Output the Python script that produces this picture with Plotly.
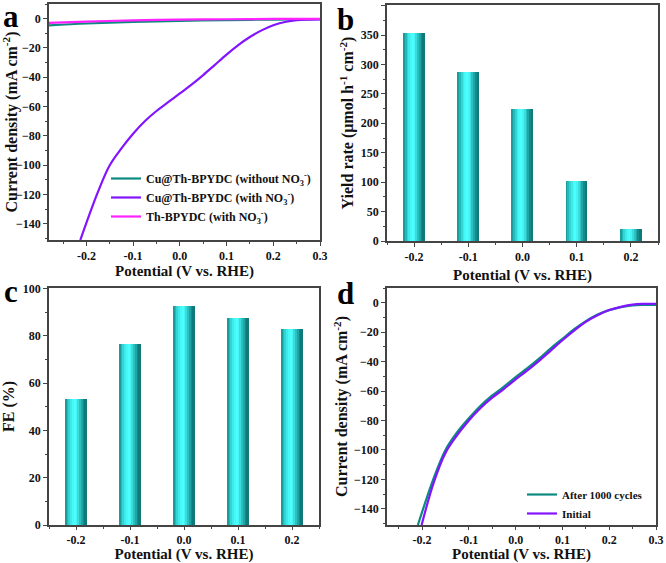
import plotly.graph_objects as go

# ---------------- data ----------------
# panel a
pot_a = [-0.213, -0.175, -0.15, -0.125, -0.10, -0.075, -0.05, -0.025, 0.0,
         0.025, 0.05, 0.075, 0.10, 0.125, 0.15, 0.175, 0.20, 0.225, 0.25, 0.275, 0.30]
cur_with = [-151, -118, -100, -88.5, -78.5, -70, -63, -57, -51,
            -45, -38.5, -31.5, -24.5, -18, -12.5, -8, -4.5, -2.3, -1.0, -0.6, -0.5]
pot_flat = [-0.28, -0.2, -0.1, 0.0, 0.1, 0.2, 0.3]
cur_without = [-4.6, -3.3, -2.2, -1.5, -1.0, -0.6, -0.4]
cur_th = [-2.9, -2.0, -1.2, -0.7, -0.4, -0.2, -0.1]

# panel b / c
bar_pot = [-0.2, -0.1, 0.0, 0.1, 0.2]
bar_labels = ["-0.2", "-0.1", "0.0", "0.1", "0.2"]
yield_rate = [353, 288, 225, 102, 21]
fe = [53.2, 76.5, 92.5, 87.5, 82.8]

# panel d
pot_after = [-0.209, -0.175, -0.15, -0.125, -0.10, -0.075, -0.05, -0.025, 0.0,
             0.025, 0.05, 0.075, 0.10, 0.125, 0.15, 0.175, 0.20, 0.225, 0.25, 0.275, 0.30]
cur_after = [-151, -119, -100, -88, -78.5, -70, -63, -57, -50.5,
             -44.5, -38, -31, -24.5, -18, -12.5, -8, -5, -3, -1.8, -1.5, -1.5]
pot_init = [-0.201, -0.175, -0.15, -0.125, -0.10, -0.075, -0.05, -0.025, 0.0,
            0.025, 0.05, 0.075, 0.10, 0.125, 0.15, 0.175, 0.20, 0.225, 0.25, 0.275, 0.30]
cur_init = [-151, -122, -102, -90, -80, -71.5, -64.5, -58.5, -52,
            -46, -39.5, -32.5, -25.5, -19, -13, -8.5, -5, -2.8, -1.3, -0.8, -0.7]

# ---------------- styling ----------------
FONT = "Liberation Serif"
W, H = 666, 563
TEAL = "#0d8a80"
PURPLE = "#8214ff"
MAGENTA = "#ff22ff"

def dom_x(l, r):
    return [l / W, r / W]

def dom_y(t, b):
    return [1 - b / H, 1 - t / H]

fig = go.Figure()

sub = "NO<sub>3</sub><sup>-</sup>"
# panel a lines
fig.add_trace(go.Scatter(x=pot_flat, y=cur_without, mode="lines", line=dict(color=TEAL, width=2.2, shape="spline"),
                         name=f"<b>Cu@Th-BPYDC (without {sub})</b>", xaxis="x", yaxis="y", legend="legend"))
fig.add_trace(go.Scatter(x=pot_a, y=cur_with, mode="lines", line=dict(color=PURPLE, width=2.2, shape="spline"),
                         name=f"<b>Cu@Th-BPYDC (with {sub})</b>", xaxis="x", yaxis="y", legend="legend"))
fig.add_trace(go.Scatter(x=pot_flat, y=cur_th, mode="lines", line=dict(color=MAGENTA, width=2.2, shape="spline"),
                         name=f"<b>Th-BPYDC (with {sub})</b>", xaxis="x", yaxis="y", legend="legend"))

# gradient bars (cylinder look) built as narrow strips
BAR_W = 0.039
grad = ["#1a9c9c", "#26b8b8", "#33d4d4", "#3ee9e9", "#48f8f8", "#4cffff",
        "#46f4f4", "#3adcdc", "#2cc0c0", "#20a4a4", "#158a8a", "#0e7a7a"]
n = len(grad)
sw = BAR_W / n
for xa, ya, vals in (("x2", "y2", yield_rate), ("x3", "y3", fe)):
    for i, c in enumerate(grad):
        fig.add_trace(go.Bar(x=bar_pot, y=vals, width=sw * 1.05, offset=-BAR_W / 2 + i * sw,
                             marker=dict(color=c, line=dict(width=0)), showlegend=False,
                             xaxis=xa, yaxis=ya, hoverinfo="skip"))

# panel d lines
fig.add_trace(go.Scatter(x=pot_after, y=cur_after, mode="lines", line=dict(color=TEAL, width=2.2, shape="spline"),
                         name="<b>After 1000 cycles</b>", xaxis="x4", yaxis="y4", legend="legend2"))
fig.add_trace(go.Scatter(x=pot_init, y=cur_init, mode="lines", line=dict(color=PURPLE, width=2.2, shape="spline"),
                         name="<b>Initial</b>", xaxis="x4", yaxis="y4", legend="legend2"))

axis_common = dict(showline=True, linecolor="#444", linewidth=1.5, mirror=True, ticks="outside",
                   ticklen=4, tickwidth=1.3, tickcolor="#444", showgrid=False, zeroline=False,
                   tickfont=dict(family=FONT, size=12, color="#111", weight="bold"), automargin=False)
xt_font = dict(family=FONT, size=15, color="#111")
yt_font = dict(family=FONT, size=16, color="#111")

x_tick_vals = [-0.2, -0.1, 0.0, 0.1, 0.2, 0.3]
x_tick_text = ["-0.2", "-0.1", "0.0", "0.1", "0.2", "0.3"]
minor = dict(ticks="outside", ticklen=2.5, tickwidth=1, tickcolor="#444")
cur_ticks = [0, -20, -40, -60, -80, -100, -120, -140]

fig.update_layout(
    width=W, height=H, margin=dict(l=0, r=0, t=0, b=0),
    paper_bgcolor="white", plot_bgcolor="white", barmode="overlay", bargap=0,
    font=dict(family=FONT, color="#111"),
    xaxis=dict(**axis_common, domain=dom_x(49, 320), anchor="y", range=[-0.28, 0.3],
               tickvals=x_tick_vals, ticktext=x_tick_text, minor=dict(**minor, dtick=0.05, tick0=0),
               title=dict(text="<b>Potential (V vs. RHE)</b>", font=xt_font, standoff=3)),
    yaxis=dict(**axis_common, domain=dom_y(4, 240), anchor="x", range=[-151, 10],
               tickvals=cur_ticks, minor=dict(**minor, dtick=10),
               title=dict(text="<b>Current density (mA cm<sup>-2</sup>)</b>", font=yt_font, standoff=2)),
    xaxis2=dict(**axis_common, domain=dom_x(387, 658), anchor="y2", range=[-0.25, 0.25],
                tickvals=bar_pot, ticktext=bar_labels, minor=dict(**minor, dtick=0.05, tick0=-0.25),
                title=dict(text="<b>Potential (V vs. RHE)</b>", font=xt_font, standoff=6)),
    yaxis2=dict(**axis_common, domain=dom_y(5, 241), anchor="x2", range=[0, 401], dtick=50,
                minor=dict(**minor, dtick=25),
                title=dict(text="<b>Yield rate (μmol h<sup>-1</sup> cm<sup>-2</sup>)</b>", font=yt_font, standoff=3)),
    xaxis3=dict(**axis_common, domain=dom_x(49, 319), anchor="y3", range=[-0.25, 0.25],
                tickvals=bar_pot, ticktext=bar_labels, minor=dict(**minor, dtick=0.05, tick0=-0.25),
                title=dict(text="<b>Potential (V vs. RHE)</b>", font=xt_font, standoff=5)),
    yaxis3=dict(**axis_common, domain=dom_y(288, 525), anchor="x3", range=[0, 100.3], dtick=20,
                minor=dict(**minor, dtick=10),
                title=dict(text="<b>FE (%)</b>", font=yt_font, standoff=6)),
    xaxis4=dict(**axis_common, domain=dom_x(387, 656), anchor="y4", range=[-0.275, 0.3],
                tickvals=x_tick_vals, ticktext=x_tick_text, minor=dict(**minor, dtick=0.05, tick0=0),
                title=dict(text="<b>Potential (V vs. RHE)</b>", font=xt_font, standoff=5)),
    yaxis4=dict(**axis_common, domain=dom_y(288, 525), anchor="x4", range=[-151, 10],
                tickvals=cur_ticks, minor=dict(**minor, dtick=10),
                title=dict(text="<b>Current density (mA cm<sup>-2</sup>)</b>", font=yt_font, standoff=2)),
    legend=dict(x=106 / W, y=1 - 164 / H, xanchor="left", yanchor="top", bgcolor="rgba(0,0,0,0)",
                font=dict(family=FONT, size=12, color="#111"), tracegroupgap=0, itemwidth=30),
    legend2=dict(x=522 / W, y=1 - 480 / H, xanchor="left", yanchor="top", bgcolor="rgba(0,0,0,0)",
                 font=dict(family=FONT, size=11, color="#111"), tracegroupgap=0, itemwidth=30),
)
# slightly shorter bottom ticks on the lower panels to leave room for titles
fig.layout.xaxis3.ticklen = 3
fig.layout.xaxis4.ticklen = 3

letters = [("a", 11, 17), ("b", 346, 20), ("c", 11, 291), ("d", 345, 293)]
for t, px, py in letters:
    fig.add_annotation(text=f"<b>{t}</b>", x=px / W, y=1 - py / H, xref="paper", yref="paper",
                       showarrow=False, font=dict(family=FONT, size=31, color="#000"),
                       xanchor="center", yanchor="middle")

fig.write_html("out.html", config={"displayModeBar": False},
               post_script="document.body.style.margin='0';document.body.style.overflow='hidden';")
